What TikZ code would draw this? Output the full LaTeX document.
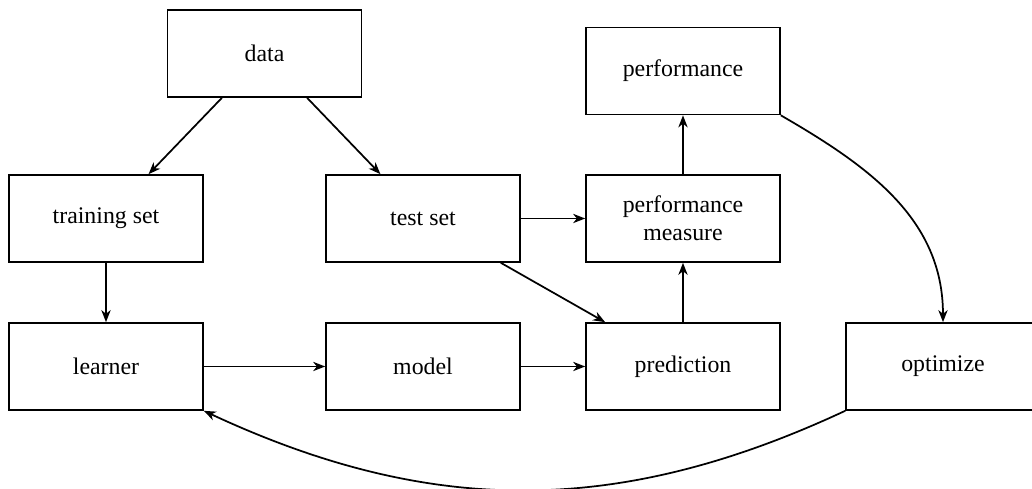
\documentclass[tikz,border=0pt]{standalone}
\usepackage{fontspec}
\setmainfont{Liberation Serif}
\newfontfamily\boxfont{Liberation Serif}
\usetikzlibrary{arrows.meta}
\begin{document}
\begin{tikzpicture}[x=0.432pt, y=-0.432pt,
  box/.style={draw, line width=0.7pt, rectangle, minimum width=83.8pt, minimum height=37.6pt, inner sep=0pt, align=center, font=\boxfont\fontsize{10.3}{12.2}\selectfont},
  conn/.style={line width=0.75pt, -{Stealth[length=5.2pt,width=4pt,inset=1.6pt]}}]
\useasboundingbox (0,0) rectangle (1032,489);
\node[box] (data) at (264.5,53.5) {data};
\node[box] (perf) at (683,71) {performance};
\node[box] (train) at (106,218.5) {training set};
\node[box] (test) at (423,218.5) {test set};
\node[box] (pm) at (683,218.5) {performance\\measure};
\node[box] (learner) at (106,366.5) {learner};
\node[box] (model) at (423,366.5) {model};
\node[box] (pred) at (683,366.5) {prediction};
\node[box] (opt) at (943,366.5) {optimize};
\draw[conn] (data) -- (train);
\draw[conn] (data) -- (test);
\draw[conn] (train) -- (learner);
\draw[conn] (learner) -- (model);
\draw[conn] (model) -- (pred);
\draw[conn] (test) -- (pm);
\draw[conn] (test) -- (pred);
\draw[conn] (pred) -- (pm);
\draw[conn] (pm) -- (perf);
\draw[conn] (perf.south east) to[out=-30, in=90] (opt.north);
\draw[conn] (opt.south west) to[out=-155, in=-25] (learner.south east);
\end{tikzpicture}
\end{document}
